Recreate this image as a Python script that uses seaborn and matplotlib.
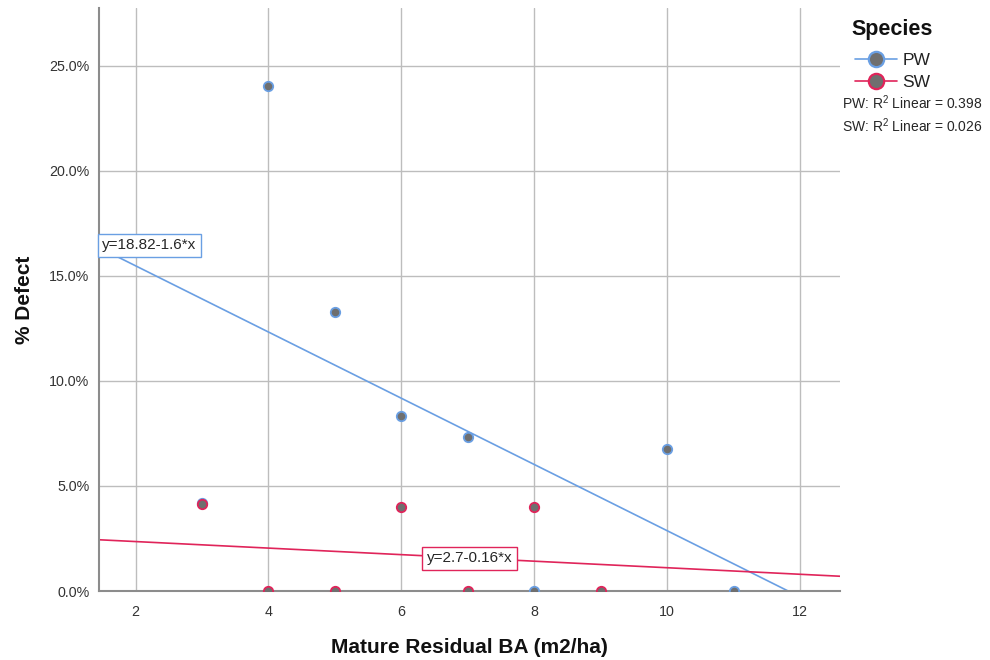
import matplotlib
matplotlib.use("Agg")
import matplotlib.pyplot as plt
from matplotlib.lines import Line2D
from matplotlib.ticker import FuncFormatter, MultipleLocator
import seaborn as sns
import pandas as pd
import numpy as np

# ---- data ----
pw_x = [3, 4, 5, 6, 7, 8, 10, 11]
pw_y = [4.17, 24.05, 13.29, 8.33, 7.33, 0.0, 6.76, 0.0]
sw_x = [3, 4, 5, 6, 7, 8, 9]
sw_y = [4.12, 0.0, 0.0, 4.0, 0.0, 4.0, 0.0]
species = ["PW", "SW"]
fit_labels = ["y=18.82-1.6*x", "y=2.7-0.16*x"]
r2_labels = ["PW: R$^2$ Linear = 0.398", "SW: R$^2$ Linear = 0.026"]
x_ticks = [2, 4, 6, 8, 10, 12]

df = pd.concat([
    pd.DataFrame({"BA": pw_x, "Defect": pw_y, "Species": "PW"}),
    pd.DataFrame({"BA": sw_x, "Defect": sw_y, "Species": "SW"}),
])

sns.set_style("white")
plt.rcParams["font.family"] = ["Liberation Sans", "DejaVu Sans"]
plt.rcParams["mathtext.fontset"] = "custom"
plt.rcParams["mathtext.rm"] = "Liberation Sans"

colors = {"PW": "#6a9fe3", "SW": "#e0245a"}
fill = "#6f6f6f"

fig = plt.figure(figsize=(9.9, 6.6), dpi=100)
ax = fig.add_axes([0.1, 0.1045, 0.7485, 0.8835])
ax.set_xlim(1.45, 12.6)
ax.set_ylim(0, 27.75)

ax.grid(True, color="#bdbdbd", linewidth=1.0)
ax.set_axisbelow(True)

for sp in species:
    sub = df[df["Species"] == sp]
    sns.regplot(data=sub, x="BA", y="Defect", ax=ax, scatter=False, ci=None,
                truncate=False, color=colors[sp], line_kws={"linewidth": 1.2, "zorder": 2})
for sp in species:
    sub = df[df["Species"] == sp]
    sns.scatterplot(data=sub, x="BA", y="Defect", ax=ax, color=fill,
                    edgecolor=colors[sp], linewidth=1.3, s=46, zorder=3, legend=False)

ax.set_xlim(1.45, 12.6)
ax.set_ylim(0, 27.75)
ax.set_xticks(x_ticks)
ax.yaxis.set_major_locator(MultipleLocator(5))
ax.yaxis.set_major_formatter(FuncFormatter(lambda v, p: f"{v:.1f}%"))
ax.tick_params(axis="both", labelsize=10.3, colors="#333333", length=0)
ax.tick_params(axis="x", pad=10)
ax.tick_params(axis="y", pad=7)
for s in ["top", "right"]:
    ax.spines[s].set_visible(False)
for s in ["left", "bottom"]:
    ax.spines[s].set_color("#8c8c8c")
    ax.spines[s].set_linewidth(1.5)

ax.set_xlabel("Mature Residual BA (m2/ha)", fontsize=15, fontweight="bold", labelpad=14,
              color="#111111")
ax.set_ylabel("% Defect", fontsize=15, fontweight="bold", labelpad=11, color="#111111")

# fit equations
ax.text(1.5, 16.45, fit_labels[0], fontsize=11, ha="left", va="center", zorder=5,
        bbox=dict(boxstyle="square,pad=0.3", fc="white", ec=colors["PW"], lw=1))
ax.text(7.03, 1.55, fit_labels[1], fontsize=11, ha="center", va="center", zorder=5,
        bbox=dict(boxstyle="square,pad=0.3", fc="white", ec=colors["SW"], lw=1))

# legend
fig.text(0.86, 0.956, "Species", fontsize=15.5, fontweight="bold", ha="left", va="center",
         color="#111111")
handles = [Line2D([0], [0], color=colors[sp], lw=1.2, marker="o", markersize=11,
                  markerfacecolor=fill, markeredgecolor=colors[sp], markeredgewidth=1.6)
           for sp in species]
leg = fig.legend(handles, species, loc="upper left", bbox_to_anchor=(0.864, 0.92),
                 frameon=False, fontsize=12.5, handlelength=2.4, handletextpad=0.3,
                 labelspacing=0.4, borderaxespad=0, borderpad=0)
for t in leg.get_texts():
    t.set_color("#222222")
fig.text(0.851, 0.845, r2_labels[0], fontsize=10, ha="left", va="center")
fig.text(0.851, 0.809, r2_labels[1], fontsize=10, ha="left", va="center")

fig.savefig("out.png", dpi=100)
